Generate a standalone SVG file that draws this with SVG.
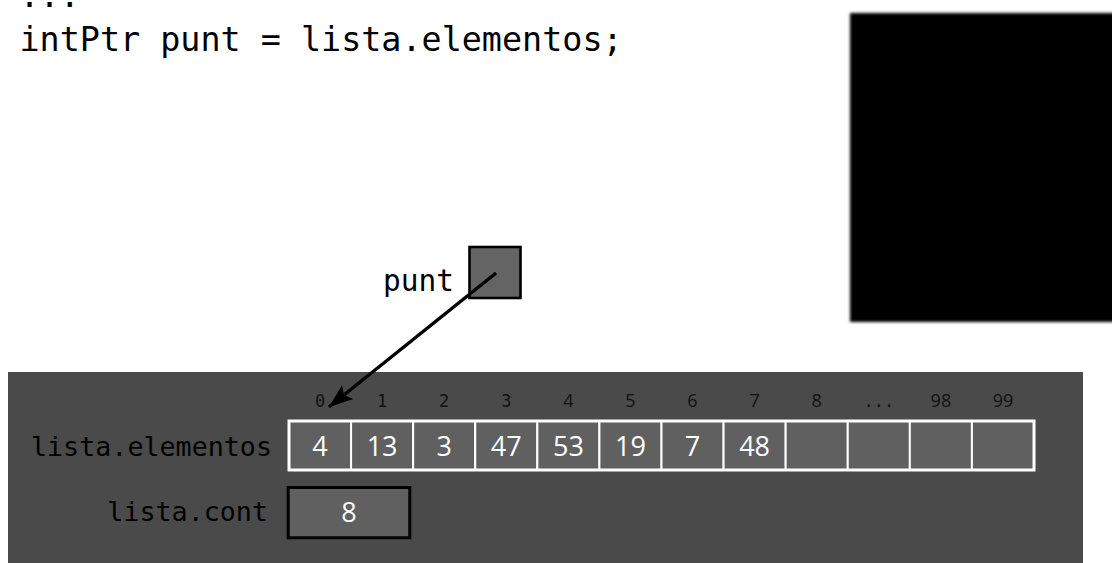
<svg xmlns="http://www.w3.org/2000/svg" width="1112" height="563" viewBox="0 0 1112 563">
<style>
.code{font-family:"DejaVu Sans Mono","Liberation Mono",monospace;fill:#000}
.lbl{font-family:"DejaVu Sans Mono","Liberation Mono",monospace;font-size:26.7px;fill:#000;text-anchor:end}
.idxm{font-family:"DejaVu Sans Mono","Liberation Mono",monospace;font-size:17px;fill:#111;text-anchor:middle}
.idx{font-family:"Open Sans","Liberation Sans",sans-serif;font-size:18px;fill:#111;text-anchor:middle}
.val{font-family:"Open Sans","Liberation Sans",sans-serif;font-size:27px;fill:#fff;text-anchor:middle}
.cell{fill:#606060;stroke:#fff;stroke-width:2}
</style>
<defs>
<filter id="blur" x="-5%" y="-5%" width="110%" height="110%"><feGaussianBlur stdDeviation="1.8"/></filter>
<marker id="ah" markerUnits="userSpaceOnUse" markerWidth="26" markerHeight="20" refX="24" refY="10" orient="auto"><path d="M0,1 L24,10 L0,19 L5,10 Z" fill="#000"/></marker>
</defs>
<rect width="1112" height="563" fill="#fff"/>
<text class="code" x="19.5" y="7" font-size="33.4">...</text>
<text class="code" x="19.5" y="51" font-size="33.4">intPtr punt = lista.elementos;</text>
<rect x="850" y="13" width="280" height="309" fill="#000" filter="url(#blur)"/>
<g id="panel"><rect x="8" y="372" width="1075" height="200" fill="#4a4a4a"/></g>
<g id="punt">
<rect x="469.5" y="247" width="51" height="51" fill="#646464" stroke="#000" stroke-width="2.6"/>
<text class="code" x="454" y="291" font-size="29.5" text-anchor="end">punt</text>
</g>
<g id="elementos">
<text class="lbl" x="272" y="456">lista.elementos</text>
<rect class="cell" x="289" y="421" width="62.08" height="49"/>
<rect class="cell" x="351.08" y="421" width="62.08" height="49"/>
<rect class="cell" x="413.17" y="421" width="62.08" height="49"/>
<rect class="cell" x="475.25" y="421" width="62.08" height="49"/>
<rect class="cell" x="537.33" y="421" width="62.08" height="49"/>
<rect class="cell" x="599.42" y="421" width="62.08" height="49"/>
<rect class="cell" x="661.5" y="421" width="62.08" height="49"/>
<rect class="cell" x="723.58" y="421" width="62.08" height="49"/>
<rect class="cell" x="785.67" y="421" width="62.08" height="49"/>
<rect class="cell" x="847.75" y="421" width="62.08" height="49"/>
<rect class="cell" x="909.83" y="421" width="62.08" height="49"/>
<rect class="cell" x="971.92" y="421" width="62.08" height="49"/>
<rect x="289" y="421" width="745" height="49" fill="none" stroke="#fff" stroke-width="3"/>
<text class="val" x="320" y="456">4</text>
<text class="val" x="382.1" y="456">13</text>
<text class="val" x="444.2" y="456">3</text>
<text class="val" x="506.3" y="456">47</text>
<text class="val" x="568.4" y="456">53</text>
<text class="val" x="630.5" y="456">19</text>
<text class="val" x="692.5" y="456">7</text>
<text class="val" x="754.6" y="456">48</text>
<text class="idxm" x="320" y="407">0</text>
<text class="idxm" x="382.1" y="407">1</text>
<text class="idxm" x="444.2" y="407">2</text>
<text class="idxm" x="506.3" y="407">3</text>
<text class="idx" x="568.4" y="407">4</text>
<text class="idx" x="630.5" y="407">5</text>
<text class="idx" x="692.5" y="407">6</text>
<text class="idx" x="754.6" y="407">7</text>
<text class="idx" x="816.7" y="407">8</text>
<text class="idxm" x="878.8" y="407" font-size="18">...</text>
<text class="idx" x="940.9" y="407">98</text>
<text class="idx" x="1003" y="407">99</text>
</g>
<g id="cont">
<text class="lbl" x="268" y="521">lista.cont</text>
<rect x="288.2" y="487.5" width="121.6" height="50.3" fill="#606060" stroke="#000" stroke-width="3"/>
<text class="val" x="349" y="522">8</text>
</g>
<g id="connectors">
<line x1="496" y1="273" x2="329" y2="407" stroke="#000" stroke-width="3.5" marker-end="url(#ah)"/>
</g>
</svg>
